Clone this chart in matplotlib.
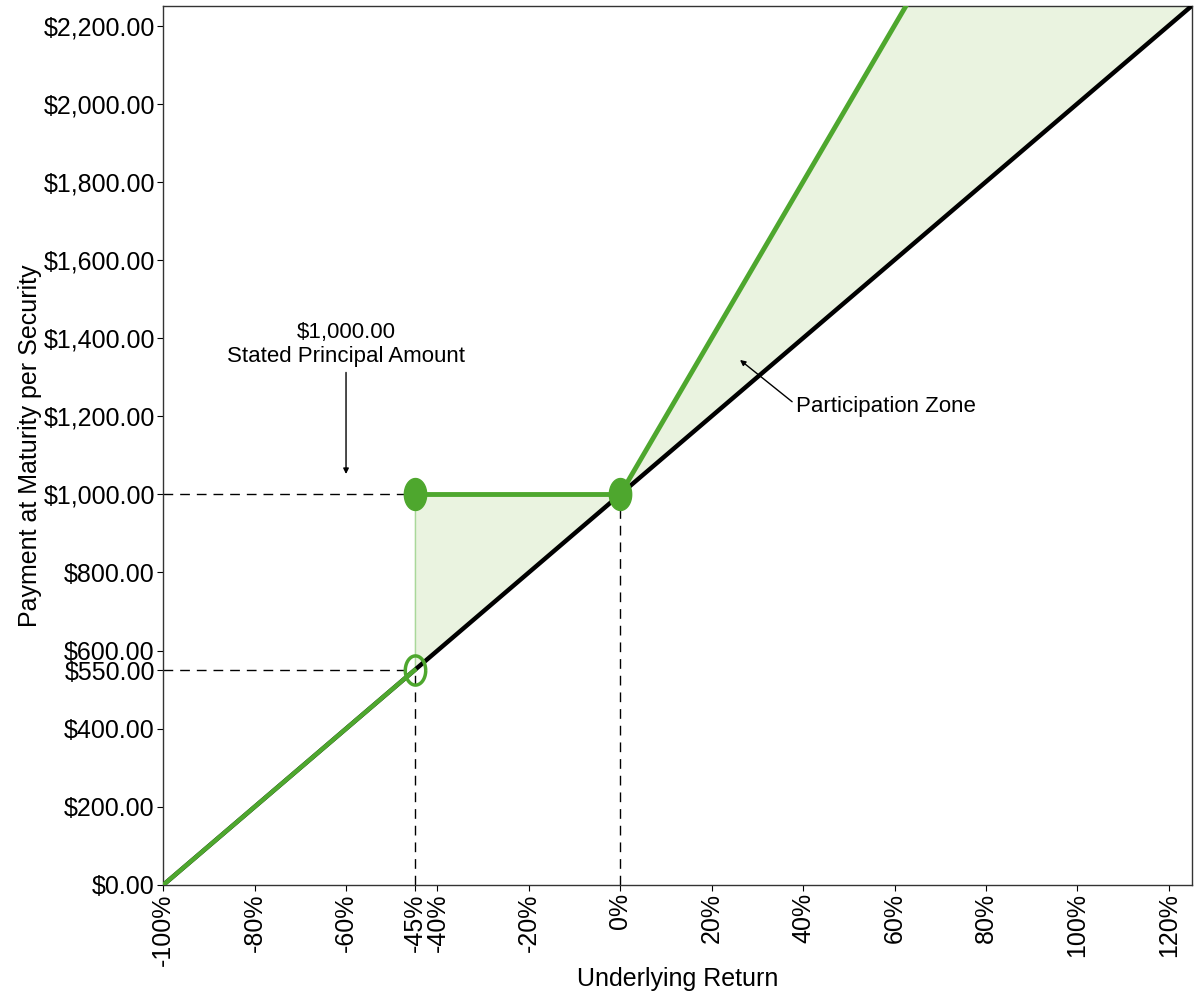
import numpy as np
import matplotlib.pyplot as plt
from matplotlib.ticker import FuncFormatter

plt.rcParams['font.family'] = ['Liberation Sans', 'DejaVu Sans']

# payoff structure (returns in %, payments in $)
principal = 1000.0
barrier = -45.0
participation = 2.0
x_min, x_max = -100.0, 125.0
y_max = 2250.0

x_ticks = [-100, -80, -60, -45, -40, -20, 0, 20, 40, 60, 80, 100, 120]
y_ticks = [0, 200, 400, 550, 600, 800, 1000, 1200, 1400, 1600, 1800, 2000, 2200]

green = '#4ea72e'
fill_green = '#eaf3e0'


def underlying(r):
    return principal * (1 + np.asarray(r) / 100.0)


def security(r):
    r = np.asarray(r, dtype=float)
    return np.where(r < barrier, underlying(r),
                    np.where(r <= 0, principal, principal * (1 + participation * r / 100.0)))


fig = plt.figure(figsize=(12, 10), dpi=100)
ax = fig.add_axes([0.136, 0.115, 0.857, 0.879])

# shaded zone between security and underlying
r_fill = np.array([barrier, barrier, 0.0, x_max])
ax.fill_between(r_fill, underlying(r_fill),
                [underlying(barrier), principal, principal, principal * (1 + participation * x_max / 100)],
                color=fill_green, zorder=1, linewidth=0)
ax.plot([barrier, barrier], [underlying(barrier), principal], color='#a9d89a', lw=1, zorder=2)

# reference dashed lines
dash = (0, (7, 5))
ax.plot([x_min, barrier], [principal, principal], color='black', lw=1, ls=dash, zorder=2)
ax.plot([x_min, barrier], [underlying(barrier)] * 2, color='black', lw=1, ls=dash, zorder=2)
ax.plot([barrier, barrier], [0, underlying(barrier)], color='black', lw=1, ls=dash, zorder=2)
ax.plot([0, 0], [0, principal], color='black', lw=1, ls=dash, zorder=2)

# underlying return line
ax.plot([x_min, x_max], underlying([x_min, x_max]), color='black', lw=3.2, zorder=3,
        solid_capstyle='butt')

# security payoff
ax.plot([x_min, barrier], underlying([x_min, barrier]), color=green, lw=3.2, zorder=4)
ax.plot([barrier, 0], [principal, principal], color=green, lw=3.5, zorder=4)
r_up = np.array([0.0, x_max])
ax.plot(r_up, security(r_up), color=green, lw=3.5, zorder=4)

t = np.linspace(0, 2 * np.pi, 60)
ellipse = np.column_stack([0.7 * np.cos(t), np.sin(t)])
ax.plot([barrier, 0], [principal, principal], ls='none', marker=ellipse, ms=23,
        color=green, zorder=5)
ax.plot([barrier], [underlying(barrier)], ls='none', marker=ellipse, ms=21,
        mfc='none', mec=green, mew=2.5, zorder=5)

# annotations
arrow = dict(arrowstyle='-|>', color='black', lw=1, mutation_scale=8, shrinkA=0, shrinkB=0)
ax.text(-60, 1325, '$1,000.00\nStated Principal Amount', ha='center', va='bottom',
        fontsize=16, linespacing=1.2)
ax.annotate('', xy=(-60, 1052), xytext=(-60, 1312), arrowprops=arrow)
ax.text(38.5, 1224, 'Participation Zone', ha='left', va='center', fontsize=16)
ax.annotate('', xy=(26.2, 1344), xytext=(37.6, 1237), arrowprops=arrow)

ax.set_xlim(x_min, x_max)
ax.set_ylim(0, y_max)
ax.set_xticks(x_ticks)
ax.set_yticks(y_ticks)
ax.xaxis.set_major_formatter(FuncFormatter(lambda v, p: f'{v:.0f}%'))
ax.yaxis.set_major_formatter(FuncFormatter(lambda v, p: f'${v:,.2f}'))
ax.tick_params(axis='x', labelrotation=90, labelsize=18, length=4, pad=2)
ax.tick_params(axis='y', labelsize=18, length=4, pad=2)
for sp in ax.spines.values():
    sp.set_color('#333333')
    sp.set_linewidth(1)

ax.set_xlabel('Underlying Return', fontsize=18)
ax.xaxis.set_label_coords(0.5, -0.093)
ax.set_ylabel('Payment at Maturity per Security', fontsize=18)
ax.yaxis.set_label_coords(-0.118, 0.5)

fig.savefig('out.png', dpi=100)
